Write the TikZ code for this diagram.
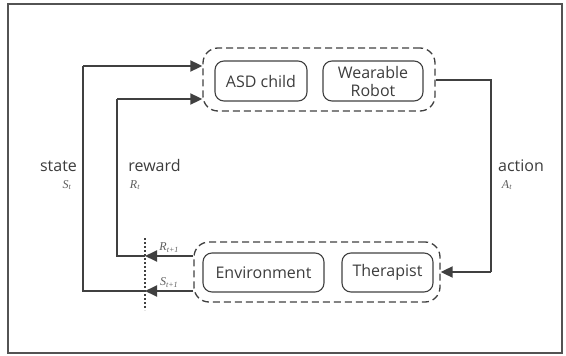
\documentclass[tikz,border=0pt]{standalone}
\usepackage{fontspec}
\setmainfont{Open Sans}
\newfontfamily\symfont{Liberation Serif}
\usetikzlibrary{arrows.meta}
\definecolor{ink}{HTML}{404040}
\definecolor{lbl}{HTML}{3C3C3C}
\tikzset{
  unit/.style={draw=ink, line width=1.1pt, rounded corners=9pt, text=lbl,
    font=\fontsize{16}{18}\selectfont, align=center, inner sep=0pt},
  group/.style={draw=ink, line width=1.3pt, dash pattern=on 7pt off 4pt,
    rounded corners=15pt, inner sep=0pt},
  flow/.style={draw=ink, line width=1.8pt},
  flowarrow/.style={flow, -{Triangle[length=12pt,width=11pt]}},
  word/.style={text=lbl, font=\fontsize{16}{17}\selectfont, inner sep=0pt},
  sym/.style={text=ink!85, font=\symfont\fontsize{12}{13}\selectfont\itshape, inner sep=0pt},
}
\begin{document}
\begin{tikzpicture}[x=1pt, y=-1pt]
  \useasboundingbox (0,0) rectangle (566,356);
  % frame
  \draw[draw=ink!90, line width=1.4pt] (8,4) rectangle (562,353);

  % agent group
  \node[group, minimum width=232pt, minimum height=63pt] (agent) at (319,79.5) {};
  \node[unit, minimum width=92pt, minimum height=40pt] (asd) at (261,81) {ASD child};
  \node[unit, minimum width=100pt, minimum height=40pt] (robot) at (373,81) {Wearable\\Robot};

  % environment group
  \node[group, minimum width=246pt, minimum height=60pt] (world) at (317,272) {};
  \node[unit, minimum width=121pt, minimum height=39pt] (env) at (263.5,272.5) {Environment};
  \node[unit, minimum width=91pt, minimum height=39pt] (ther) at (387.5,272.5) {Therapist};

  % sampling line
  \coordinate (dtop) at (145,238);
  \coordinate (dbot) at (145,310);
  \draw[draw=ink, line width=1.6pt, dash pattern=on 2pt off 2pt] (dtop) -- (dbot);

  % junction points on the sampling line
  \coordinate (rjoin) at (145,256);
  \coordinate (sjoin) at (145,291);

  % next reward / state leaving the environment
  \draw[flowarrow] (world.west |- rjoin) -- node[sym, above=3pt] {R\textsubscript{t+1}} (rjoin);
  \draw[flowarrow] (world.west |- sjoin) -- node[sym, above=3pt] {S\textsubscript{t+1}} (sjoin);

  % state loop
  \coordinate (sbot) at (83,291);
  \coordinate (stop) at (83,66);
  \draw[flow] (sjoin) -- (sbot) -- (stop);
  \draw[flowarrow] (stop) -- (agent.west |- stop);

  % reward loop
  \coordinate (rbot) at (117,256);
  \coordinate (rtop) at (117,99);
  \draw[flow] (rjoin) -- (rbot) -- (rtop);
  \draw[flowarrow] (rtop) -- (agent.west |- rtop);

  % action loop
  \coordinate (atop) at (491,80);
  \coordinate (abot) at (491,272);
  \draw[flow] (agent.east |- atop) -- (atop) -- (abot);
  \draw[flowarrow] (abot) -- (world.east |- abot);

  % loop labels
  \node[word, anchor=base] (lstate) at (58.5,171) {state};
  \node[sym, anchor=base] (lst) at (67,188) {S\textsubscript{t}};
  \node[word, anchor=base] (lreward) at (154.5,171) {reward};
  \node[sym, anchor=base] (lrt) at (135,188) {R\textsubscript{t}};
  \node[word, anchor=base] (laction) at (521,171) {action};
  \node[sym, anchor=base] (lat) at (507,188) {A\textsubscript{t}};
\end{tikzpicture}
\end{document}
